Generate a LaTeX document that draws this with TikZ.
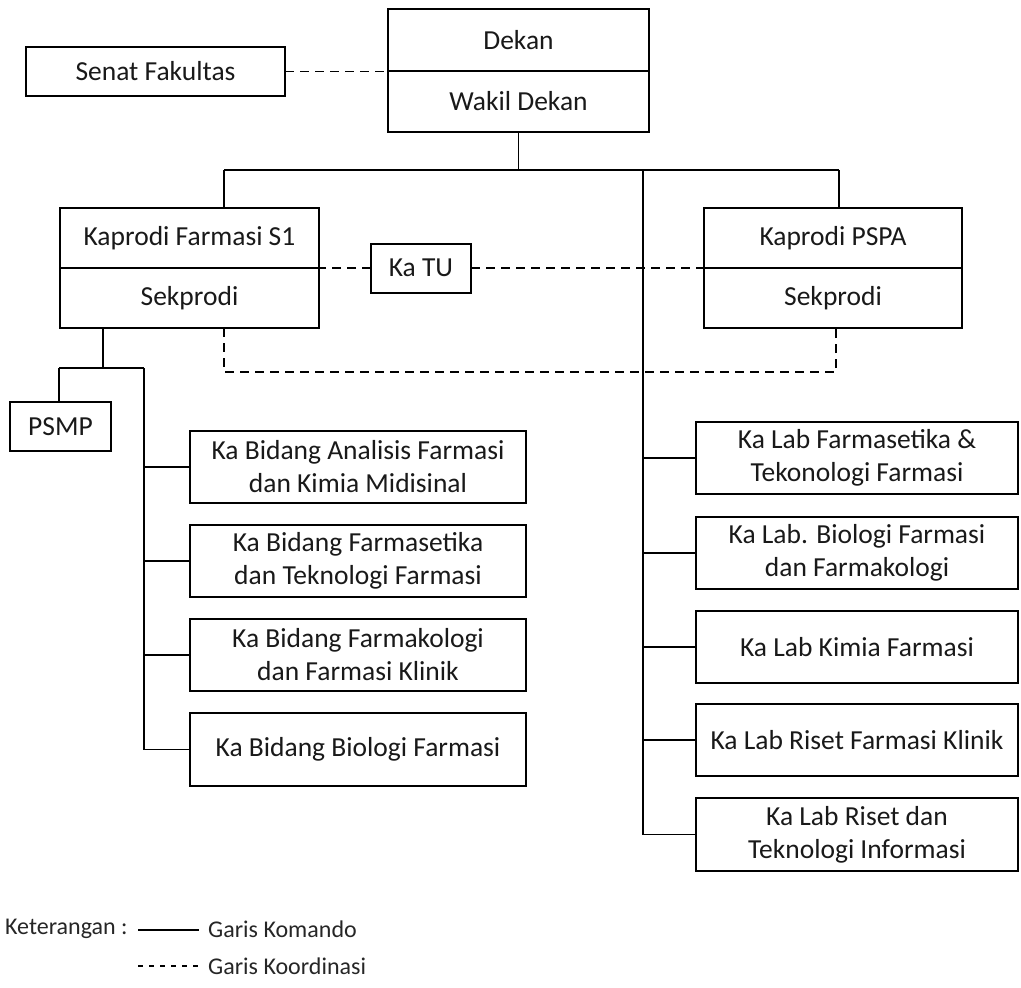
\documentclass[tikz,border=0pt]{standalone}
\usepackage{fontspec}
\setmainfont{Carlito}
\begin{document}
\begin{tikzpicture}[x=1pt,y=-1pt,
  box/.style={draw=black,line width=2pt,inner sep=0pt,outer sep=0pt,align=center,
    font=\fontsize{27.5}{33}\selectfont,text=black!90},
  cmd/.style={line width=1.6pt,black},
  coord/.style={line width=1.6pt,black,dash pattern=on 9pt off 6pt},
  legtext/.style={anchor=west,inner sep=0pt,font=\fontsize{24}{28}\selectfont,text=black!85}]
\useasboundingbox (0,0) rectangle (1021,988);

% top
\node[box,minimum width=261pt,minimum height=62pt] (dekan) at (518.5,40) {Dekan};
\node[box,minimum width=261pt,minimum height=61pt] (wakil) at (518.5,101.5) {Wakil Dekan};
\node[box,minimum width=259pt,minimum height=49pt] (senat) at (155.5,71.5) {Senat Fakultas};

% prodi
\node[box,minimum width=259pt,minimum height=60pt] (kf) at (189.5,238) {Kaprodi Farmasi S1};
\node[box,minimum width=259pt,minimum height=60pt] (sk1) at (189.5,298) {Sekprodi};
\node[box,minimum width=258pt,minimum height=60pt] (pspa) at (833,238) {Kaprodi PSPA};
\node[box,minimum width=258pt,minimum height=60pt] (sk2) at (833,298) {Sekprodi};
\node[box,minimum width=100pt,minimum height=49pt] (katu) at (421,268) {Ka TU};
\node[box,minimum width=101pt,minimum height=49pt] (psmp) at (60.5,426.5) {PSMP};

% bidang
\node[box,minimum width=336pt,minimum height=72pt] (b1) at (358,467) {Ka Bidang Analisis Farmasi\\dan Kimia Midisinal};
\node[box,minimum width=336pt,minimum height=72pt] (b2) at (358,561) {Ka Bidang Farmasetika\\dan Teknologi Farmasi};
\node[box,minimum width=336pt,minimum height=72pt] (b3) at (358,655) {Ka Bidang Farmakologi\\dan Farmasi Klinik};
\node[box,minimum width=336pt,minimum height=73pt] (b4) at (358,749.5) {Ka Bidang Biologi Farmasi};

% labs
\node[box,minimum width=322pt,minimum height=72pt] (l1) at (857,458) {Ka Lab Farmasetika \&\\Tekonologi Farmasi};
\node[box,minimum width=322pt,minimum height=72pt] (l2) at (857,553) {Ka Lab. Biologi Farmasi\\dan Farmakologi};
\node[box,minimum width=322pt,minimum height=72pt] (l3) at (857,647) {Ka Lab Kimia Farmasi};
\node[box,minimum width=322pt,minimum height=72pt] (l4) at (857,740) {Ka Lab Riset Farmasi Klinik};
\node[box,minimum width=322pt,minimum height=73pt] (l5) at (857,834.5) {Ka Lab Riset dan\\Teknologi Informasi};

% junction coordinates
\coordinate (jtop) at (518.5,170);
\coordinate (jL) at (224,170);
\coordinate (jR) at (839,170);
\coordinate (jC) at (643,170);
\coordinate (jCend) at (643,834.5);
\coordinate (kdown) at (103,368);
\coordinate (pL) at (59,368);
\coordinate (pR) at (144,368);
\coordinate (pEnd) at (144,749.5);
\coordinate (dL) at (224,372);
\coordinate (dR) at (836,372);

% command lines
\draw[cmd] (wakil.south) -- (jtop);
\draw[cmd] (jL) -- (jR);
\draw[cmd] (jL) -- (jL |- kf.north);
\draw[cmd] (jR) -- (jR |- pspa.north);
\draw[cmd] (jC) -- (jCend);
\foreach \n in {l1,l2,l3,l4,l5} \draw[cmd] (\n.west) -- (\n.west -| jC);
\draw[cmd] (kdown |- sk1.south) -- (kdown);
\draw[cmd] (pL) -- (pR);
\draw[cmd] (pL) -- (pL |- psmp.north);
\draw[cmd] (pR) -- (pEnd);
\foreach \n in {b1,b2,b3,b4} \draw[cmd] (\n.west) -- (\n.west -| pR);

% coordination lines
\draw[coord] (senat.east) -- (senat.east -| dekan.south west);
\draw[coord] (katu.west) -- (katu.west -| kf.east);
\draw[coord] (katu.east) -- (katu.east -| pspa.west);
\draw[coord] (dL |- sk1.south) -- (dL) -- (dR) -- (dR |- sk2.south);

% legend
\node[legtext] (ket) at (5,929) {Keterangan :};
\coordinate (a1) at (138,930);
\coordinate (a2) at (199,930);
\draw[line width=1.4pt] (a1) -- (a2);
\node[legtext] (gk) at (208,929) {Garis Komando};
\coordinate (b1s) at (138,966);
\coordinate (b2s) at (199,966);
\draw[line width=1.4pt,dash pattern=on 5pt off 6pt] (b1s) -- (b2s);
\node[legtext] (gko) at (208,966) {Garis Koordinasi};
\end{tikzpicture}
\end{document}
